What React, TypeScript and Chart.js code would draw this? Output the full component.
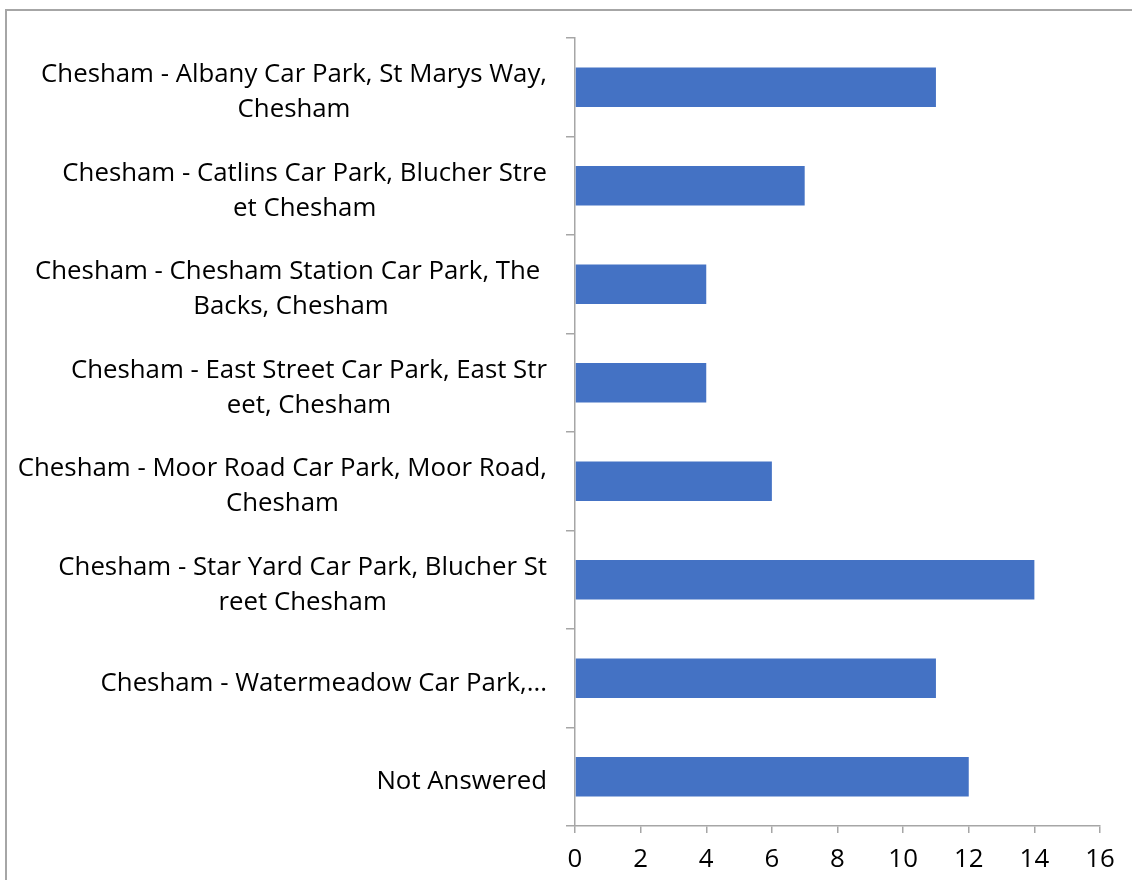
import React, { useEffect, useRef } from "react";
import { Chart, registerables } from "chart.js";

Chart.register(...registerables);

const categories: string[][] = [
  ["Chesham - Albany Car Park, St Marys Way,", "Chesham"],
  ["Chesham - Catlins Car Park, Blucher Stre", "et Chesham"],
  ["Chesham - Chesham Station Car Park, The ", "Backs, Chesham"],
  ["Chesham - East Street Car Park, East Str", "eet, Chesham"],
  ["Chesham - Moor Road Car Park, Moor Road,", "Chesham"],
  ["Chesham - Star Yard Car Park, Blucher St", "reet Chesham"],
  ["Chesham - Watermeadow Car Park,..."],
  ["Not Answered"],
];
const values: number[] = [11, 7, 4, 4, 6, 14, 11, 12];
const xMin = 0;
const xMax = 16;
const xStep = 2;

const FONT = "'Open Sans'";
const FONT_SIZE = 25.8;
const LINE_H = 35;
const AXIS_COLOR = "#a6a6a6";
const BAR_COLOR = "#4472C4";

const framePlugin = {
  id: "frame",
  beforeDraw(chart: any) {
    const ctx = chart.ctx;
    ctx.save();
    ctx.fillStyle = "#ffffff";
    ctx.fillRect(0, 0, chart.width, chart.height);
    ctx.strokeStyle = AXIS_COLOR;
    ctx.lineWidth = 2;
    ctx.beginPath();
    ctx.moveTo(chart.width, 10);
    ctx.lineTo(6, 10);
    ctx.lineTo(6, chart.height);
    ctx.stroke();
    ctx.restore();
  },
};

const labelPlugin = {
  id: "catLabels",
  afterDraw(chart: any) {
    const ctx = chart.ctx;
    const yScale = chart.scales.y;
    const labels = chart.data.labels as string[][];
    const right = chart.chartArea.left - 28;
    ctx.save();
    ctx.font = `${FONT_SIZE}px ${FONT}`;
    ctx.fillStyle = "#000000";
    ctx.textAlign = "center";
    ctx.textBaseline = "middle";
    labels.forEach((lines, i) => {
      const y = yScale.getPixelForValue(i);
      const widest = Math.max(...lines.map((l) => ctx.measureText(l).width));
      const cx = right - widest / 2;
      lines.forEach((line, j) => {
        const ly = y + (j - (lines.length - 1) / 2) * LINE_H + 5;
        ctx.fillText(line, cx, ly);
      });
    });
    ctx.restore();
  },
};

export default function App() {
  const ref = useRef<HTMLCanvasElement | null>(null);

  useEffect(() => {
    if (!ref.current) return;
    const xTicks: number[] = [];
    for (let v = xMin; v <= xMax; v += xStep) xTicks.push(v);
    const chart = new Chart(ref.current, {
      type: "bar",
      data: {
        labels: categories as any,
        datasets: [
          {
            data: values,
            backgroundColor: BAR_COLOR,
            borderWidth: 0,
            barPercentage: 0.4,
            categoryPercentage: 1,
          },
        ],
      },
      options: {
        indexAxis: "y",
        responsive: false,
        animation: false,
        layout: { padding: { top: 38, right: 32, left: 0, bottom: 0 } },
        plugins: {
          legend: { display: false },
          tooltip: { enabled: false },
        },
        scales: {
          x: {
            type: "linear",
            min: xMin,
            max: xMax,
            afterBuildTicks: (s: any) => {
              s.ticks = xTicks.map((v) => ({ value: v }));
            },
            ticks: {
              color: "#000000",
              font: { family: FONT, size: FONT_SIZE },
              padding: 11,
              maxRotation: 0,
            },
            grid: {
              drawOnChartArea: false,
              drawTicks: true,
              tickLength: 7,
              color: AXIS_COLOR,
              lineWidth: 1.5,
            },
            border: { color: AXIS_COLOR, width: 1.5 },
            afterFit: (s: any) => {
              s.height = 54;
            },
          },
          y: {
            type: "category",
            ticks: { display: false },
            grid: {
              drawOnChartArea: false,
              drawTicks: true,
              tickLength: 9,
              color: AXIS_COLOR,
              lineWidth: 1.5,
              offset: true,
            },
            border: { color: AXIS_COLOR, width: 1.5 },
            afterFit: (s: any) => {
              s.width = 575;
            },
          },
        },
      },
      plugins: [framePlugin, labelPlugin],
    });
    return () => chart.destroy();
  }, []);

  return (
    <div style={{ position: "absolute", left: 0, top: 0, width: 1132, height: 880 }}>
      <canvas ref={ref} width={1132} height={880} style={{ display: "block" }} />
    </div>
  );
}
